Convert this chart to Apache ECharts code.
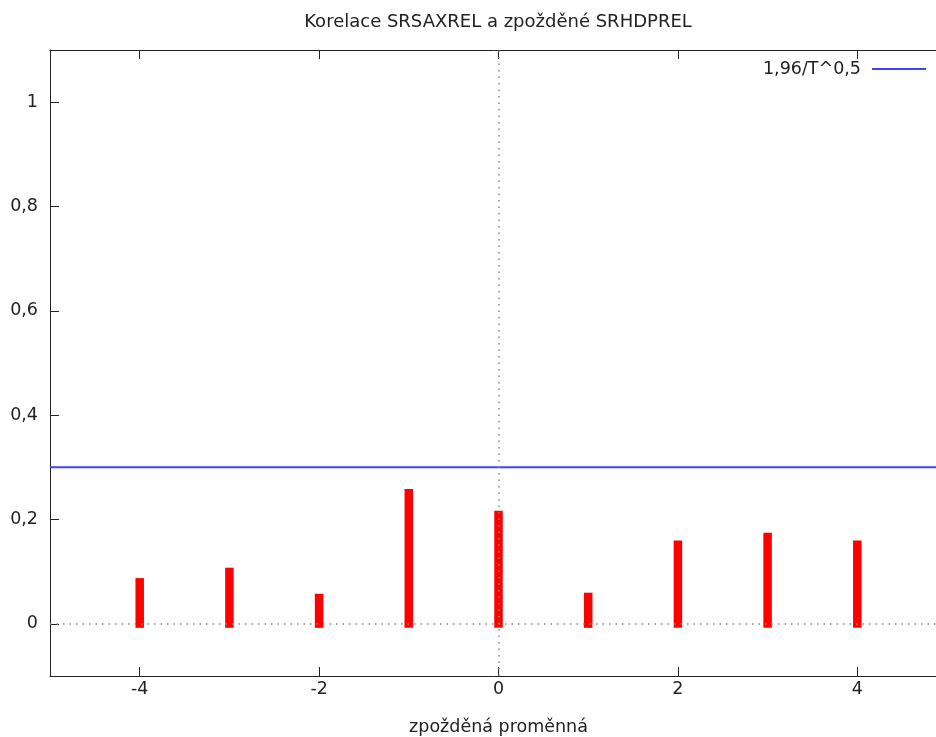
<!DOCTYPE html>
<html>
<head>
<meta charset="utf-8">
<script src="https://cdn.jsdelivr.net/npm/echarts@6/dist/echarts.min.js"></script>
<style>
html,body{margin:0;padding:0;background:#fff;}
#chart{width:936px;height:737px;}
</style>
</head>
<body>
<div id="chart"></div>
<script>
// Data
const lags = [-4, -3, -2, -1, 0, 1, 2, 3, 4];
const correlations = [0.080, 0.100, 0.050, 0.251, 0.209, 0.052, 0.152, 0.167, 0.152];
const bandX = [-5, 5];
const bandValue = [0.30, 0.30];
const xTicks = [-4, -2, 0, 2, 4];
const yTicks = [0, 0.2, 0.4, 0.6, 0.8, 1];
const titleText = 'Korelace SRSAXREL a zpožděné SRHDPREL';
const xLabel = 'zpožděná proměnná';
const bandName = '1,96/T^0,5';

const FONT = 'DejaVu Sans';
const FS = 17.5;
const fmt = v => String(Math.round(v * 10) / 10).replace('.', ',');

const chart = echarts.init(document.getElementById('chart'), null, {renderer: 'canvas'});

const axisCommon = {
  axisLine: {show: true, onZero: false, lineStyle: {color: '#222', width: 1}},
  axisTick: {show: true, inside: true, length: 9, lineStyle: {color: '#222', width: 1}},
  splitLine: {show: false}
};

const option = {
  animation: false,
  backgroundColor: '#fff',
  title: {
    text: titleText,
    left: 493,
    top: 8,
    textAlign: 'center',
    textStyle: {fontFamily: FONT, fontSize: 18, fontWeight: 'normal', color: '#222'}
  },
  legend: {
    right: 10,
    top: 60,
    padding: 0,
    orient: 'vertical',
    align: 'right',
    itemWidth: 54,
    itemHeight: 14,
    textStyle: {fontFamily: FONT, fontSize: FS, color: '#222', padding: [0, 6, 0, 0]},
    data: [{name: bandName, icon: 'path://M0,6L54,6L54,8L0,8Z'}]
  },
  grid: {left: 50, top: 50, width: 897, height: 626, containLabel: false, outerBoundsMode: 'none'},
  xAxis: [
    Object.assign({}, axisCommon, {
      type: 'value', min: -5, max: 5, position: 'bottom',
      axisTick: Object.assign({}, axisCommon.axisTick, {customValues: xTicks}),
      axisLabel: {customValues: xTicks, formatter: fmt, fontFamily: FONT, fontSize: FS, color: '#222', margin: 4},
      name: xLabel, nameLocation: 'middle', nameGap: 42,
      nameTextStyle: {fontFamily: FONT, fontSize: FS, color: '#222'}
    }),
    Object.assign({}, axisCommon, {
      type: 'value', min: -5, max: 5, position: 'top',
      axisTick: Object.assign({}, axisCommon.axisTick, {customValues: xTicks}),
      axisLabel: {show: false}
    })
  ],
  yAxis: [
    Object.assign({}, axisCommon, {
      type: 'value', min: -0.1, max: 1.1, position: 'left',
      axisTick: Object.assign({}, axisCommon.axisTick, {customValues: yTicks}),
      axisLabel: {customValues: yTicks, formatter: fmt, fontFamily: FONT, fontSize: FS, color: '#222', margin: 12}
    })
  ],
  series: [
    {
      name: 'zero',
      type: 'line',
      data: [],
      silent: true,
      z: 1,
      markLine: {
        silent: true,
        symbol: 'none',
        label: {show: false},
        lineStyle: {color: '#888', type: [1.5, 5], width: 1.5},
        data: [{xAxis: 0}, {yAxis: 0}]
      }
    },
    {
      name: 'corr',
      type: 'custom',
      z: 3,
      data: lags.map((x, i) => [x, correlations[i]]),
      renderItem: function (params, api) {
        const x = api.value(0), v = api.value(1);
        const top = api.coord([x, v]);
        const base = api.coord([x, 0]);
        const y0 = Math.min(top[1], base[1]) - 4;
        const y1 = Math.max(top[1], base[1]) + 4;
        return {
          type: 'rect',
          shape: {x: top[0] - 4.25, y: y0, width: 8.5, height: y1 - y0},
          style: {fill: '#ff0000'}
        };
      }
    },
    {
      name: bandName,
      type: 'line',
      z: 4,
      symbol: 'none',
      color: '#4040ff',
      lineStyle: {color: '#4040ff', width: 2},
      data: bandX.map((x, i) => [x, bandValue[i]])
    }
  ]
};
chart.setOption(option);
</script>
</body>
</html>
